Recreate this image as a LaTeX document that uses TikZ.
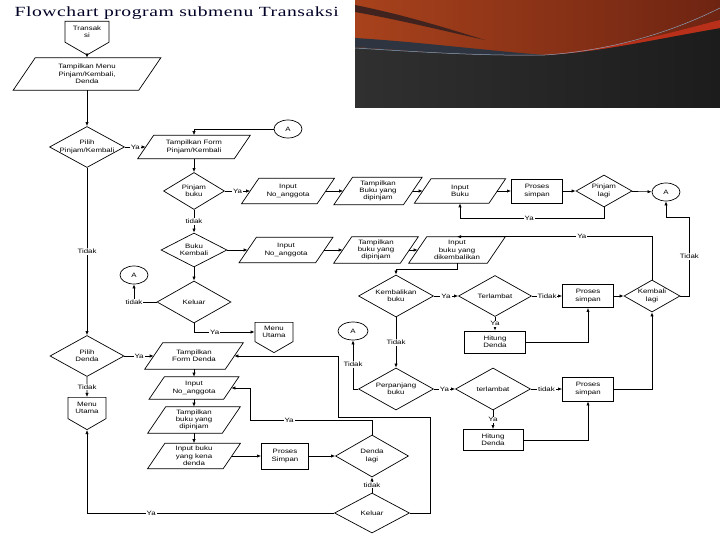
\documentclass[tikz,border=0pt]{standalone}
\usepackage{fontspec}
\setmainfont{Liberation Serif}
\newfontfamily\titleFont[FakeStretch=1.4,LetterSpace=4]{Liberation Serif}
\newfontfamily\chartFont[FakeStretch=1.25]{Liberation Sans}
\usetikzlibrary{shapes.geometric}
\usetikzlibrary{shapes.symbols}
\usetikzlibrary{arrows.meta}
\usetikzlibrary{calc}

\definecolor{slideDark}{HTML}{303030}
\definecolor{slideDarker}{HTML}{1C1C1C}
\definecolor{swooshOrange}{HTML}{A8421C}
\definecolor{swooshBrown}{HTML}{6E2412}
\definecolor{swooshRed}{HTML}{B8301A}
\definecolor{swooshBand}{HTML}{40231E}
\definecolor{swooshBlue}{HTML}{2E3440}
\definecolor{swooshLine}{HTML}{8AA0B8}
\newcommand{\chartSize}{\chartFont\fontsize{6.3}{7.3}\selectfont}

\begin{document}
\begin{tikzpicture}
[x=1pt,y=-1pt,line width=0.6pt,%
  lineDecorate/.style={-{Latex[length=4pt,width=3.2pt]},line width=0.6pt},%
  labelDecorate/.style={fill=white,inner sep=1pt,font=\chartSize},%
  ioDecorate/.style={shape=rectangle,inner sep=0pt,align=center,font=\chartSize,
    append after command={\pgfextra{\draw[line width=0.7pt]
      let \p1=(\tikzlastnode.north), \p2=(\tikzlastnode.south), \n1={0.34*(\y1-\y2)} in
      ([xshift=-\n1]\tikzlastnode.south west) -- ([xshift=-\n1]\tikzlastnode.south east)
      -- ([xshift=\n1]\tikzlastnode.north east) -- ([xshift=\n1]\tikzlastnode.north west) -- cycle;}}},%
  decisionDecorate/.style={shape=diamond,shape aspect=1.8,draw,line width=0.7pt,inner sep=0pt,align=center,font=\chartSize},%
  processDecorate/.style={shape=rectangle,draw,line width=0.8pt,inner sep=0pt,align=center,font=\chartSize},%
  connectorDecorate/.style={shape=ellipse,draw,line width=0.7pt,inner sep=0pt,minimum width=28pt,minimum height=18pt,font=\chartSize},%
  pageDecorate/.style={shape=signal,signal to=south,signal pointer angle=120,draw,line width=0.7pt,inner sep=0pt,align=center,anchor=north,font=\chartSize}]
\useasboundingbox (0,0) rectangle (720,540);
%% slide decoration
\shade[left color=slideDark,right color=slideDarker] (355,0) rectangle (720,108);
\shade[left color=swooshOrange,right color=swooshBrown] (355,0) -- (720,0) -- (720,28)
  .. controls (650,40) and (600,52) .. (545,55) .. controls (480,57) and (400,50) .. (355,47) -- cycle;
\fill[swooshBand] (355,5) .. controls (400,14) and (440,26) .. (485,40) .. controls (440,30) and (400,20) .. (355,12) -- cycle;
\fill[swooshBlue] (355,38) .. controls (420,42) and (480,50) .. (545,55) .. controls (480,57) and (400,50) .. (355,47) -- cycle;
\fill[swooshRed] (545,55) .. controls (620,48) and (680,30) .. (720,20) -- (720,28) .. controls (650,40) and (600,52) .. (545,55) -- cycle;
\draw[swooshLine,line width=0.5pt] (355,48) .. controls (420,52) and (480,56) .. (545,55) .. controls (620,50) and (680,28) .. (720,8);
\node[anchor=base west,text=black!85!blue,font=\titleFont\fontsize{14}{16}\selectfont] (title) at (11,17) {Flowchart program submenu Transaksi};

%% nodes: pinjam / kembali
\node[pageDecorate,minimum width=44pt,minimum height=29pt] (transaksi) at (87,21) {Transak\\si};
\node[ioDecorate,minimum width=125pt,minimum height=32pt] (menu) at (87,74) {Tampilkan Menu\\Pinjam/Kembali,\\Denda};
\node[decisionDecorate,inner xsep=-4pt,minimum width=75pt,minimum height=41pt] (pilihPK) at (87,147) {Pilih\\Pinjam/Kembali};
\node[ioDecorate,minimum width=96pt,minimum height=23pt] (formPK) at (194,147) {Tampilkan Form\\Pinjam/Kembali};
\node[connectorDecorate] (conA1) at (288,129) {A};
\node[decisionDecorate,minimum width=61pt,minimum height=37pt] (pinjamBuku) at (194,191) {Pinjam\\buku};
\node[ioDecorate,minimum width=75pt,minimum height=25pt] (inNo1) at (288,191) {Input\\No\_anggota};
\node[ioDecorate,minimum width=69pt,minimum height=27pt] (tampil1) at (378,191) {Tampilkan\\Buku yang\\dipinjam};
\node[ioDecorate,minimum width=74pt,minimum height=24pt] (inBuku) at (460,191) {Input\\Buku};
\node[processDecorate,minimum width=51pt,minimum height=24pt] (simpan1) at (537,191) {Proses\\simpan};
\node[decisionDecorate,minimum width=56pt,minimum height=32pt] (pinjamLagi) at (604,191) {Pinjam\\lagi};
\node[connectorDecorate] (conA2) at (666,192) {A};
\node[decisionDecorate,minimum width=66pt,minimum height=34pt] (bukuKembali) at (194,250) {Buku\\Kembali};
\node[ioDecorate,minimum width=76pt,minimum height=25pt] (inNo2) at (286,250) {Input\\No\_anggota};
\node[ioDecorate,minimum width=66pt,minimum height=26pt] (tampil2) at (376,250) {Tampilkan\\buku yang\\dipinjam};
\node[ioDecorate,minimum width=78pt,minimum height=26pt] (inKembali) at (457,250) {Input\\buku yang\\dikembalikan};
\node[decisionDecorate,minimum width=74pt,minimum height=42pt] (keluar1) at (194,302) {Keluar};
\node[connectorDecorate] (conA3) at (134,275) {A};
\node[pageDecorate,minimum width=38pt,minimum height=26pt] (menuUtama1) at (274,322) {Menu\\Utama};

%% nodes: kembalikan / perpanjang
\node[decisionDecorate,minimum width=75pt,minimum height=42pt] (kembalikanBuku) at (396,296) {Kembalikan\\buku};
\node[decisionDecorate,minimum width=73pt,minimum height=41pt] (terlambat1) at (495,296) {Terlambat};
\node[processDecorate,minimum width=51pt,minimum height=23pt] (simpan2) at (588,296) {Proses\\simpan};
\node[processDecorate,minimum width=61pt,minimum height=22pt] (hitung1) at (495,342) {Hitung\\Denda};
\node[decisionDecorate,minimum width=56pt,minimum height=32pt] (kembaliLagi) at (652,296) {Kembali\\lagi};
\node[connectorDecorate,minimum width=30pt] (conA4) at (353,331) {A};
\node[decisionDecorate,minimum width=75pt,minimum height=42pt] (perpanjang) at (396,389) {Perpanjang\\buku};
\node[decisionDecorate,minimum width=75pt,minimum height=42pt] (terlambat2) at (493,389) {terlambat};
\node[processDecorate,minimum width=51pt,minimum height=24pt] (simpan3) at (588,389) {Proses\\simpan};
\node[processDecorate,minimum width=60pt,minimum height=21pt] (hitung2) at (493,440) {Hitung\\Denda};

%% nodes: denda
\node[decisionDecorate,minimum width=74pt,minimum height=41pt] (pilihDenda) at (87,356) {Pilih\\Denda};
\node[pageDecorate,minimum width=38pt,minimum height=28pt] (menuUtama2) at (87,397) {Menu\\Utama};
\node[ioDecorate,minimum width=80pt,minimum height=26pt] (formDenda) at (194,356) {Tampilkan\\Form Denda};
\node[ioDecorate,minimum width=74pt,minimum height=22pt] (inNo3) at (194,388) {Input\\No\_anggota};
\node[ioDecorate,minimum width=74pt,minimum height=26pt] (tampil3) at (194,420) {Tampilkan\\buku yang\\dipinjam};
\node[ioDecorate,minimum width=75pt,minimum height=25pt] (inDenda) at (194,456) {Input buku\\yang kena\\denda};
\node[processDecorate,minimum width=47pt,minimum height=26pt] (simpanDenda) at (285,456) {Proses\\Simpan};
\node[decisionDecorate,minimum width=73pt,minimum height=42pt] (dendaLagi) at (372,456) {Denda\\lagi};
\node[decisionDecorate,minimum width=75pt,minimum height=40pt] (keluar2) at (372,513) {Keluar};
\coordinate (dendaBend) at (250,420);
\coordinate (backTop) at (430,417);
\coordinate (backMid) at (338,417);

%% straight edges
\foreach \from/\to in {transaksi/menu, menu/pilihPK, formPK/pinjamBuku,
  inNo1/tampil1, tampil1/inBuku, inBuku/simpan1, simpan1/pinjamLagi, pinjamLagi/conA2,
  bukuKembali/inNo2, inNo2/tampil2, tampil2/inKembali, bukuKembali/keluar1,
  simpan2/kembaliLagi, formDenda/inNo3, inNo3/tampil3, tampil3/inDenda,
  inDenda/simpanDenda, simpanDenda/dendaLagi}
{
  \draw[lineDecorate] (\from) -- (\to);
}
%% labelled edges
\foreach \from/\to/\word in {pilihPK/formPK/Ya, pilihPK/pilihDenda/Tidak,
  pinjamBuku/inNo1/Ya, pinjamBuku/bukuKembali/tidak,
  kembalikanBuku/terlambat1/Ya, kembalikanBuku/perpanjang/Tidak,
  terlambat1/simpan2/Tidak, terlambat1/hitung1/Ya,
  perpanjang/terlambat2/Ya, terlambat2/simpan3/tidak, terlambat2/hitung2/Ya,
  pilihDenda/formDenda/Ya, pilihDenda/menuUtama2/Tidak, keluar2/dendaLagi/tidak}
{
  \draw[lineDecorate] (\from) -- node[labelDecorate] {\word} (\to);
}
%% bent edges
\draw[lineDecorate] (conA1.west) -| (formPK.north);
\draw[lineDecorate] (pinjamLagi.south) -- ++(0,11) -| node[pos=0.26,labelDecorate] {Ya} (inBuku.south);
\draw[lineDecorate] (keluar1.west) -| node[pos=0.5,labelDecorate] {tidak} (conA3.south);
\draw[lineDecorate] (keluar1.south) |- node[pos=0.67,labelDecorate] {Ya} (menuUtama1.west);
\draw[lineDecorate] (inKembali.south) -- ++(0,6) -| (kembalikanBuku.north);
\draw[lineDecorate] (kembaliLagi.north) |- node[pos=0.68,labelDecorate] {Ya} (inKembali.north);
\draw[lineDecorate] (kembaliLagi.east) -- ++(9,0) -- node[labelDecorate] {Tidak} ++(0,-79) -| (conA2.south);
\draw[lineDecorate] (hitung1.east) -| (simpan2.south);
\draw[lineDecorate] (perpanjang.west) -| node[pos=0.75,labelDecorate] {Tidak} (conA4.south);
\draw[lineDecorate] (hitung2.east) -| (simpan3.south);
\draw[lineDecorate] (simpan3.east) -| (kembaliLagi.south);
\draw[lineDecorate] (dendaLagi.north) |- node[pos=0.84,labelDecorate] {Ya} (dendaBend) |- (inNo3.east);
\draw[lineDecorate] (keluar2.west) -| node[pos=0.37,labelDecorate] {Ya} (menuUtama2.south);
\draw[lineDecorate] (keluar2.east) -| (backTop) -- (backMid) |- (formDenda.east);
\end{tikzpicture}
\end{document}
